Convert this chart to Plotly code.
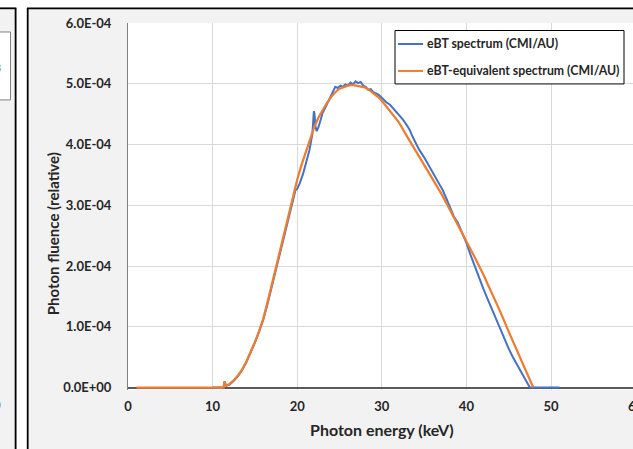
import plotly.graph_objects as go

# ---------------- data (fluence in units of 1E-04) ----------------
blue_energy = [10.0, 11.3, 11.4, 11.6, 12.0, 12.5, 13.0, 13.5, 14.0, 14.5, 15.0, 15.5,
               16.0, 16.5, 17.0, 17.5, 18.0, 18.5, 19.0, 19.5, 19.8, 20.0, 20.3, 20.7,
               21.0, 21.45, 21.8, 21.9, 21.97, 22.05, 22.15, 22.3, 22.5, 22.8, 23.0,
               23.4, 23.8, 24.2, 24.5, 24.8, 25.1, 25.4, 25.7, 26.0, 26.3, 26.6, 26.9,
               27.2, 27.5, 27.8, 28.1, 28.4, 28.7, 29.0, 29.3, 29.6, 30.0, 30.5, 31.0,
               31.5, 32.0, 32.5, 33.0, 33.3, 33.6, 34.0, 34.4, 35.0, 35.5, 36.0, 36.5,
               36.8, 37.2, 37.6, 38.0, 38.5, 39.0, 39.5, 40.0, 40.5, 41.0, 41.5, 42.0,
               42.5, 43.0, 43.5, 44.0, 44.5, 45.0, 45.5, 46.0, 46.5, 47.0, 47.4, 47.5,
               51.0]
blue_fluence = [0.0, 0.0, 0.10, 0.03, 0.05, 0.11, 0.19, 0.29, 0.42, 0.57, 0.74, 0.92,
                1.12, 1.38, 1.66, 1.96, 2.26, 2.55, 2.83, 3.08, 3.25, 3.27, 3.36, 3.52,
                3.66, 3.91, 4.18, 4.35, 4.55, 4.50, 4.30, 4.22, 4.28, 4.42, 4.52,
                4.63, 4.74, 4.86, 4.95, 4.93, 4.97, 4.95, 4.99, 4.97, 5.02, 4.99, 5.04,
                5.01, 5.03, 4.97, 4.95, 4.90, 4.91, 4.86, 4.84, 4.82, 4.77, 4.70, 4.65,
                4.57, 4.48, 4.41, 4.31, 4.24, 4.14, 4.03, 3.92, 3.79, 3.67, 3.56, 3.44,
                3.37, 3.25, 3.12, 2.99, 2.82, 2.71, 2.55, 2.38, 2.18, 1.99, 1.81, 1.63,
                1.46, 1.29, 1.12, 0.96, 0.79, 0.64, 0.50, 0.37, 0.25, 0.13, 0.02, 0.0,
                0.0]

orange_energy = [1.0, 11.3, 11.4, 11.6, 12.0, 12.5, 13.0, 13.5, 14.0, 14.5, 15.0, 15.5,
                 16.0, 16.5, 17.0, 17.5, 18.0, 18.5, 19.0, 19.5, 20.0, 20.5, 21.0, 21.5,
                 22.0, 22.5, 23.0, 23.5, 24.0, 24.5, 25.0, 25.5, 26.0, 26.5, 27.0, 27.5,
                 28.0, 28.5, 29.0, 29.5, 30.0, 31.0, 32.0, 33.0, 34.0, 35.0, 36.0, 37.0,
                 38.0, 39.0, 40.0, 41.0, 42.0, 43.0, 44.0, 45.0, 46.0, 47.0, 47.9]
orange_fluence = [0.0, 0.0, 0.10, 0.03, 0.06, 0.12, 0.20, 0.30, 0.43, 0.58, 0.75, 0.93,
                  1.14, 1.41, 1.70, 2.00, 2.30, 2.60, 2.89, 3.16, 3.42, 3.66, 3.88, 4.09,
                  4.28, 4.44, 4.57, 4.68, 4.78, 4.86, 4.92, 4.95, 4.97, 4.98, 4.97, 4.96,
                  4.94, 4.90, 4.85, 4.79, 4.72, 4.55, 4.37, 4.13, 3.90, 3.67, 3.44, 3.20,
                  2.94, 2.68, 2.41, 2.14, 1.86, 1.56, 1.25, 0.92, 0.60, 0.28, 0.0]

energy_ticks = [0, 10, 20, 30, 40, 50]
fluence_ticks = [0.0, 1e-4, 2e-4, 3e-4, 4e-4, 5e-4, 6e-4]
fluence_tick_labels = ["0.0E+00", "1.0E-04", "2.0E-04", "3.0E-04", "4.0E-04",
                       "5.0E-04", "6.0E-04"]
series_names = ["eBT spectrum (CMI/AU)", "eBT-equivalent spectrum (CMI/AU)"]
x_title = "Photon energy (keV)"
y_title = "Photon fluence (relative)"

# ---------------- geometry ----------------
W, H = 633, 449
L, T = 128, 23
Y_MIN, Y_MAX = -0.04e-4, 6.0e-4
PX_PER_UNIT = 365 / 6.0e-4
PB = 388 + (0 - Y_MIN) * PX_PER_UNIT      # pixel of plot-area bottom
X_MAX = (W - L) / 8.46

def px(x):
    return (x - L) / (W - L)

def py(y):
    return (PB - y) / (PB - T)

FONT = "Lato, Carlito, Calibri, sans-serif"
BLUE = "#4472C4"
ORANGE = "#ED7D31"
TXT = "#262626"

fig = go.Figure()
fig.add_trace(go.Scatter(x=blue_energy, y=[v * 1e-4 for v in blue_fluence],
                         mode="lines", name=series_names[0],
                         line=dict(color=BLUE, width=2), showlegend=False))
fig.add_trace(go.Scatter(x=orange_energy, y=[v * 1e-4 for v in orange_fluence],
                         mode="lines", name=series_names[1],
                         line=dict(color=ORANGE, width=2.25), showlegend=False))

shapes = []
# white strips outside the chart frames
shapes.append(dict(type="rect", xref="paper", yref="paper", x0=px(-5), x1=px(W + 5),
                   y0=py(-5), y1=py(8), fillcolor="white", line=dict(width=0), layer="below"))
shapes.append(dict(type="rect", xref="paper", yref="paper", x0=px(16.3), x1=px(27),
                   y0=py(-5), y1=py(H + 5), fillcolor="white", line=dict(width=0), layer="below"))
# frame borders
for x0, y0, x1, y1 in [(15.6, 8.3, 15.6, H + 5), (-5, 8.3, 16.3, 8.3),
                       (27.7, 8.3, 27.7, H + 5), (27, 8.3, W + 5, 8.3)]:
    shapes.append(dict(type="line", xref="paper", yref="paper", x0=px(x0), x1=px(x1),
                       y0=py(y0), y1=py(y1), line=dict(color="black", width=1.8), layer="below"))
# neighbouring chart's legend box (cut off)
shapes.append(dict(type="rect", xref="paper", yref="paper", x0=px(-5), x1=px(10.5),
                   y0=py(100), y1=py(32), fillcolor="white",
                   line=dict(color="#7f7f7f", width=1), layer="below"))
# legend box
shapes.append(dict(type="rect", xref="paper", yref="paper", x0=px(395), x1=px(624),
                   y0=py(84), y1=py(30.5), fillcolor="white",
                   line=dict(color="black", width=1), layer="above"))
for yy, col in [(44, BLUE), (71, ORANGE)]:
    shapes.append(dict(type="line", xref="paper", yref="paper", x0=px(398), x1=px(423),
                       y0=py(yy), y1=py(yy), line=dict(color=col, width=2), layer="above"))

annotations = []
for yy, name in [(44, series_names[0]), (71, series_names[1])]:
    annotations.append(dict(xref="paper", yref="paper", x=px(425), y=py(yy), text=name,
                            showarrow=False, xanchor="left", yanchor="middle",
                            font=dict(family=FONT, size=12.3, color=TXT, weight="bold")))
annotations.append(dict(xref="paper", yref="paper", x=px(382), y=py(430), text=x_title,
                        showarrow=False, xanchor="center", yanchor="middle",
                        font=dict(family=FONT, size=16, color=TXT, weight="bold")))
annotations.append(dict(xref="paper", yref="paper", x=px(53), y=py(234.5), text=y_title,
                        showarrow=False, xanchor="center", yanchor="middle", textangle=-90,
                        font=dict(family=FONT, size=15, color=TXT, weight="bold")))
# partially visible "60" tick label at right edge
annotations.append(dict(xref="paper", yref="paper", x=px(128 + 8.46 * 60), y=py(406),
                        text="60", showarrow=False, xanchor="center", yanchor="middle",
                        font=dict(family=FONT, size=13, color=TXT, weight="bold")))
# cut-off text of the neighbouring chart
annotations.append(dict(xref="paper", yref="paper", x=px(3), y=py(67.5), text="3",
                        showarrow=False, xanchor="right", yanchor="middle",
                        font=dict(family=FONT, size=12, color=TXT, weight="bold")))
annotations.append(dict(xref="paper", yref="paper", x=px(3), y=py(405.5), text="0",
                        showarrow=False, xanchor="right", yanchor="middle",
                        font=dict(family=FONT, size=13, color=TXT, weight="bold")))

fig.update_layout(
    width=W, height=H,
    margin=dict(l=L, r=0, t=T, b=H - PB, pad=0),
    paper_bgcolor="#F2F2F2",
    plot_bgcolor="white",
    showlegend=False,
    shapes=shapes,
    annotations=annotations,
    xaxis=dict(range=[0, X_MAX], tickvals=energy_ticks, ticktext=[str(v) for v in energy_ticks],
               showgrid=True, gridcolor="#D9D9D9", gridwidth=1,
               zeroline=False, showline=False, ticks="",
               ticklabelstandoff=7,
               tickfont=dict(family=FONT, size=13, color=TXT, weight="bold")),
    yaxis=dict(range=[Y_MIN, Y_MAX], tickvals=fluence_ticks, ticktext=fluence_tick_labels,
               showgrid=True, gridcolor="#D9D9D9", gridwidth=1,
               zeroline=True, zerolinecolor="#595959", zerolinewidth=2,
               showline=True, linecolor="#808080", linewidth=1, ticks="",
               ticklabelstandoff=13,
               tickfont=dict(family=FONT, size=13, color=TXT, weight="bold")),
)

fig.write_html("out.html", config={"displayModeBar": False},
               post_script="document.body.style.margin='0';")
